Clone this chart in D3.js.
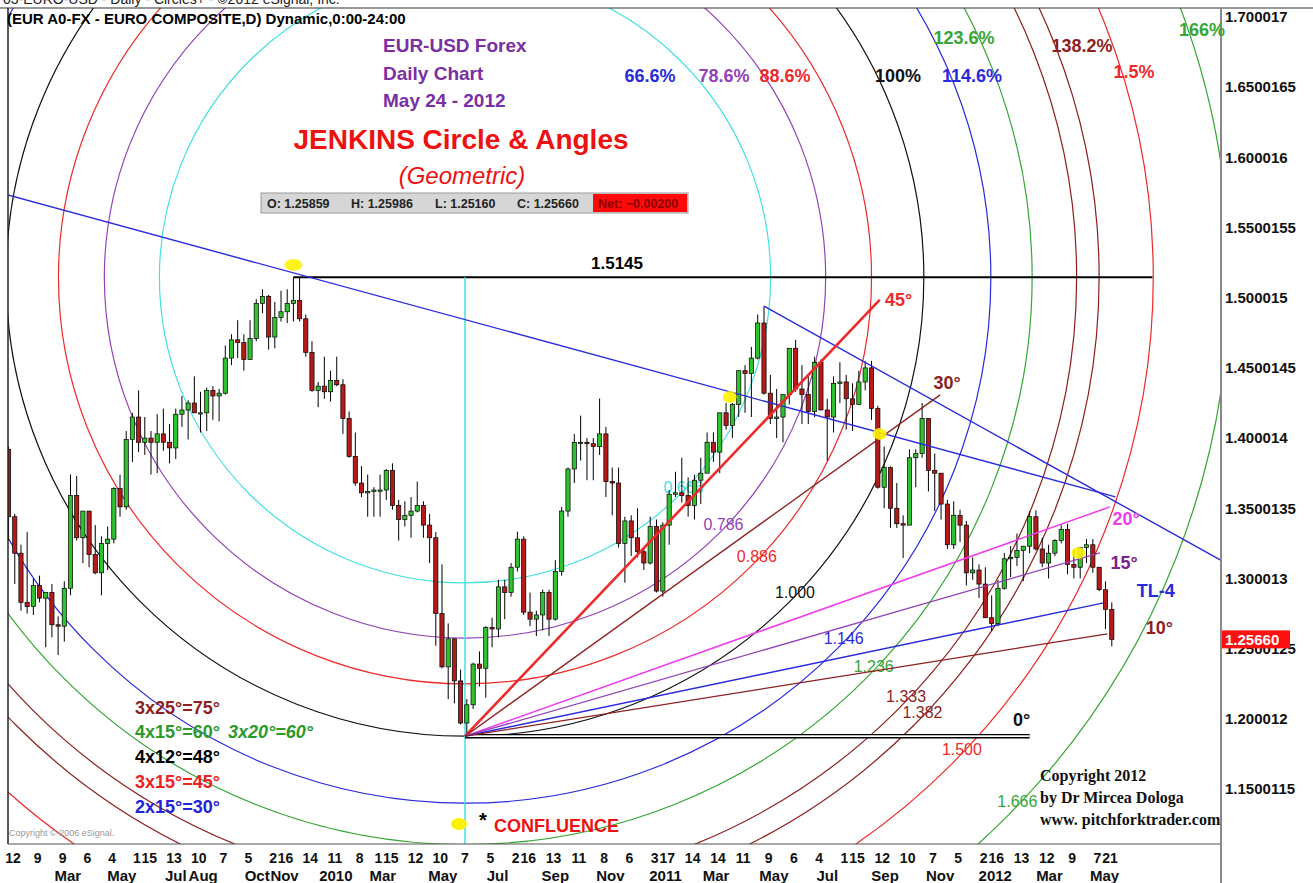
<!DOCTYPE html>
<html>
<head>
<meta charset="utf-8">
<script src="https://cdn.jsdelivr.net/npm/d3@7"></script>
<style>
  body { margin: 0; background: #fff; }
  svg { display: block; }
</style>
</head>
<body>
<div id="chart"></div>
<script>
// weekly EUR/USD candles [open, high, low, close], one row per week (Mondays)
var ohlc2009 = [
  [1.3920,1.3940,1.3270,1.3440],[1.3440,1.3460,1.2960,1.3180],[1.3180,1.3240,1.2770,1.2830],[1.2830,1.3330,1.2750,1.2800],
  [1.2800,1.3000,1.2740,1.2950],[1.2950,1.3020,1.2830,1.2860],[1.2860,1.2890,1.2510,1.2900],[1.2900,1.2960,1.2580,1.2670],
  [1.2670,1.2730,1.2455,1.2660],[1.2660,1.2980,1.2550,1.2930],[1.2930,1.3740,1.2880,1.3590],[1.3590,1.3730,1.3270,1.3290],
  [1.3290,1.3450,1.3110,1.3480],[1.3480,1.3480,1.3080,1.3170],[1.3170,1.3380,1.3030,1.3040],[1.3040,1.3300,1.2880,1.3250],
  [1.3250,1.3370,1.3060,1.3280],[1.3280,1.3650,1.3250,1.3640],[1.3640,1.3740,1.3440,1.3510],[1.3510,1.4050,1.3490,1.3990],
  [1.3990,1.4180,1.3830,1.4150],[1.4150,1.4340,1.3900,1.3970],[1.3970,1.4150,1.3880,1.4000],[1.4000,1.4050,1.3740,1.3970],
  [1.3970,1.4170,1.3750,1.4030],[1.4030,1.4210,1.3910,1.3970],[1.3970,1.4100,1.3820,1.3930],[1.3930,1.4210,1.3850,1.4170],
  [1.4170,1.4300,1.4080,1.4200],[1.4200,1.4270,1.3990,1.4250],[1.4250,1.4440,1.4180,1.4180],[1.4180,1.4330,1.4040,1.4180],
  [1.4180,1.4360,1.4050,1.4340],[1.4340,1.4370,1.4130,1.4300],[1.4300,1.4350,1.4120,1.4320],[1.4320,1.4660,1.4310,1.4570],
  [1.4570,1.4740,1.4520,1.4700],[1.4700,1.4840,1.4570,1.4680],[1.4680,1.4740,1.4480,1.4560],[1.4560,1.4840,1.4560,1.4710],
  [1.4710,1.4990,1.4690,1.4960],[1.4960,1.5060,1.4890,1.5010],[1.5010,1.5020,1.4630,1.4720],[1.4720,1.4970,1.4640,1.4860],
  [1.4860,1.5050,1.4830,1.4900],[1.4900,1.5060,1.4820,1.4960],[1.4960,1.5145,1.4830,1.4980],[1.4980,1.5140,1.4830,1.4850],
  [1.4850,1.4880,1.4580,1.4610],[1.4610,1.4690,1.4330,1.4340],[1.4340,1.4400,1.4220,1.4370],[1.4370,1.4580,1.4280,1.4330]
];
var ohlc2010 = [
  [1.4330,1.4480,1.4260,1.4410],[1.4410,1.4580,1.4370,1.4380],[1.4380,1.4420,1.4030,1.4140],[1.4140,1.4190,1.3860,1.3870],
  [1.3870,1.4040,1.3660,1.3680],[1.3680,1.3800,1.3580,1.3610],[1.3610,1.3740,1.3440,1.3620],[1.3620,1.3650,1.3440,1.3630],
  [1.3630,1.3740,1.3440,1.3630],[1.3630,1.3780,1.3560,1.3770],[1.3770,1.3820,1.3490,1.3520],[1.3520,1.3560,1.3270,1.3420],
  [1.3420,1.3550,1.3370,1.3450],[1.3450,1.3580,1.3290,1.3480],[1.3480,1.3690,1.3470,1.3520],[1.3520,1.3550,1.3290,1.3380],
  [1.3380,1.3460,1.3110,1.3290],[1.3290,1.3330,1.2520,1.2750],[1.2750,1.3100,1.2360,1.2370],[1.2370,1.2680,1.2140,1.2570],
  [1.2570,1.2570,1.2110,1.2270],[1.2270,1.2350,1.1960,1.1970],[1.1970,1.2140,1.1876,1.2100],[1.2100,1.2400,1.2070,1.2390],
  [1.2390,1.2480,1.2230,1.2360],[1.2360,1.2660,1.2150,1.2650],[1.2650,1.2720,1.2510,1.2640],[1.2640,1.2990,1.2580,1.2940],
  [1.2940,1.2990,1.2710,1.2900],[1.2900,1.3110,1.2870,1.3080],[1.3080,1.3333,1.3050,1.3280],[1.3280,1.3300,1.2740,1.2760],
  [1.2760,1.2900,1.2660,1.2710],[1.2710,1.2770,1.2590,1.2740],[1.2740,1.2920,1.2630,1.2900],[1.2900,1.2920,1.2590,1.2710],
  [1.2710,1.3130,1.2700,1.3050],[1.3050,1.3510,1.3020,1.3480],[1.3480,1.3790,1.3440,1.3780],[1.3780,1.4030,1.3680,1.3970],
  [1.3970,1.4160,1.3840,1.3970],[1.3970,1.4000,1.3700,1.3960],[1.3960,1.4000,1.3700,1.3940],[1.3940,1.4282,1.3880,1.4030],
  [1.4030,1.4080,1.3580,1.3690],[1.3690,1.3790,1.3450,1.3680],[1.3680,1.3790,1.3220,1.3250],[1.3250,1.3440,1.2970,1.3410],
  [1.3410,1.3450,1.3160,1.3290],[1.3290,1.3500,1.3150,1.3190],[1.3190,1.3220,1.3060,1.3110],[1.3110,1.3440,1.3100,1.3370]
];
var ohlc2011 = [
  [1.3370,1.3420,1.2900,1.2910],[1.2910,1.3400,1.2870,1.3380],[1.3380,1.3630,1.3240,1.3600],[1.3600,1.3760,1.3580,1.3610],
  [1.3610,1.3860,1.3540,1.3590],[1.3590,1.3720,1.3440,1.3520],[1.3520,1.3740,1.3420,1.3700],[1.3700,1.3860,1.3530,1.3750],
  [1.3750,1.4040,1.3750,1.3970],[1.3970,1.4040,1.3830,1.3900],[1.3900,1.4180,1.3750,1.4180],[1.4180,1.4250,1.4060,1.4090],
  [1.4090,1.4250,1.4000,1.4240],[1.4240,1.4480,1.4150,1.4480],[1.4480,1.4520,1.4180,1.4460],[1.4460,1.4650,1.4150,1.4570],
  [1.4570,1.4880,1.4560,1.4820],[1.4820,1.4940,1.4310,1.4320],[1.4320,1.4450,1.4100,1.4140],[1.4140,1.4350,1.4000,1.4150],
  [1.4150,1.4310,1.3970,1.4310],[1.4310,1.4640,1.4240,1.4640],[1.4640,1.4700,1.4330,1.4350],[1.4350,1.4520,1.4100,1.4310],
  [1.4310,1.4450,1.4100,1.4190],[1.4190,1.4580,1.4150,1.4540],[1.4540,1.4560,1.4200,1.4200],[1.4200,1.4280,1.3840,1.4150],
  [1.4150,1.4440,1.4040,1.4390],[1.4390,1.4540,1.4250,1.4400],[1.4400,1.4450,1.4060,1.4280],[1.4280,1.4390,1.4050,1.4240],
  [1.4240,1.4480,1.4240,1.4400],[1.4400,1.4550,1.4340,1.4500],[1.4500,1.4550,1.4130,1.4210],[1.4210,1.4230,1.3640,1.3650],
  [1.3650,1.3940,1.3500,1.3790],[1.3790,1.3800,1.3360,1.3500],[1.3500,1.3680,1.3360,1.3390],[1.3390,1.3450,1.3145,1.3380],
  [1.3380,1.3920,1.3380,1.3860],[1.3860,1.3920,1.3650,1.3890],[1.3890,1.4250,1.3860,1.4140],[1.4140,1.4140,1.3620,1.3770],
  [1.3770,1.3890,1.3480,1.3750],[1.3750,1.3750,1.3420,1.3530],[1.3530,1.3560,1.3210,1.3240],[1.3240,1.3550,1.3210,1.3450],
  [1.3450,1.3490,1.3260,1.3380],[1.3380,1.3410,1.2950,1.3040],[1.3040,1.3150,1.2990,1.3060],[1.3060,1.3100,1.2860,1.2960]
];
var ohlc2012 = [
  [1.2960,1.3080,1.2720,1.2720],[1.2720,1.2880,1.2625,1.2680],[1.2680,1.2990,1.2660,1.2930],[1.2930,1.3180,1.2920,1.3140],
  [1.3140,1.3230,1.3010,1.3150],[1.3150,1.3320,1.3090,1.3200],[1.3200,1.3230,1.2980,1.3230],[1.3230,1.3480,1.3180,1.3440],
  [1.3440,1.3485,1.3200,1.3210],[1.3210,1.3290,1.3080,1.3110],[1.3110,1.3240,1.3000,1.3180],[1.3180,1.3280,1.3160,1.3270],
  [1.3270,1.3380,1.3250,1.3350],[1.3350,1.3390,1.3030,1.3100],[1.3100,1.3210,1.3000,1.3080],[1.3080,1.3220,1.3000,1.3220],
  [1.3220,1.3280,1.3110,1.3240],[1.3240,1.3280,1.3040,1.3080],[1.3080,1.3080,1.2910,1.2920],[1.2920,1.2980,1.2640,1.2780],
  [1.2780,1.2830,1.2516,1.2566]
];
var firstWeek = '2009-01-05';
var lastWeek = '2012-05-21';

// last daily bar (May 24 2012): open, high, low, close, net
var lastBar = [1.25859, 1.25986, 1.25160, 1.25660, -0.00200];

// swing points the geometry is built on
var swingHigh = ['2009-11-25', 1.5145];
var swingLow = ['2010-06-07', 1.1876];

// Jenkins circles, as a ratio of the high-low radius
var circleLevels = [0.666, 0.786, 0.886, 1.000, 1.146, 1.236, 1.333, 1.382, 1.500, 1.666];
var circleNames = ['0.666', '0.786', '0.886', '1.000', '1.146', '1.236', '1.333', '1.382', '1.500', '1.666'];
var topPctNames = ['66.6%', '78.6%', '88.6%', '100%', '114.6%', '123.6%', '138.2%', '1.5%', '166%'];

// angles drawn from the swing low: end date, end price
var angleNames = ['45°', '30°', '20°', '15°', 'TL-4', '10°', '0°'];
var angleEndDates = ['2011-09-09', '2011-11-15', '2012-05-21', '2012-05-10', '2012-05-14', '2012-05-18', '2012-02-22'];
var angleEndPrices = [1.4984, 1.4308, 1.3510, 1.3182, 1.2826, 1.2605, 1.1876];

// blue trendlines: start date, start price, end date, end price
var trendStart = [['2009-01-06', 1.5732], ['2011-05-04', 1.4940]];
var trendEnd = [['2012-05-27', 1.3581], ['2012-09-20', 1.3132]];
var highLineEnd = '2012-07-07';

// yellow touch markers
var touchDates = ['2009-11-25', '2011-03-27', '2011-09-09', '2012-04-16'];
var touchPrices = [1.5234, 1.4293, 1.4030, 1.3181];

// axes
var priceTicks = [1.700017, 1.6500165, 1.600016, 1.5500155, 1.500015, 1.4500145, 1.400014, 1.3500135, 1.300013, 1.2500125, 1.200012, 1.1500115];
var priceTickLabels = ['1.700017', '1.6500165', '1.600016', '1.5500155', '1.500015', '1.4500145', '1.400014', '1.3500135', '1.300013', '1.2500125', '1.200012', '1.1500115'];
var dayTicks = [
  '2009-01-12','2009-02-09','2009-03-09','2009-04-06','2009-05-04','2009-06-01','2009-06-15','2009-07-13','2009-08-10','2009-09-07','2009-10-05','2009-11-02','2009-11-16','2009-12-14',
  '2010-01-11','2010-02-08','2010-03-01','2010-03-15','2010-04-12','2010-05-10','2010-06-07','2010-07-05','2010-08-02','2010-08-16','2010-09-13','2010-10-11','2010-11-08','2010-12-06',
  '2011-01-03','2011-01-17','2011-02-14','2011-03-14','2011-04-11','2011-05-09','2011-06-06','2011-07-04','2011-08-01','2011-08-15','2011-09-12','2011-10-10','2011-11-07','2011-12-05',
  '2012-01-02','2012-01-16','2012-02-13','2012-03-12','2012-04-09','2012-05-07','2012-05-21'
];
var monthTicks = ['2009-03-15','2009-05-15','2009-07-15','2009-08-15','2009-10-15','2009-11-15','2010-01-12','2010-03-06','2010-05-13','2010-07-13','2010-09-15','2010-11-15',
  '2011-01-15','2011-03-12','2011-05-15','2011-07-13','2011-09-15','2011-11-15','2012-01-15','2012-03-15','2012-05-15'];
var monthLabels = ['Mar','May','Jul','Aug','Oct','Nov','2010','Mar','May','Jul','Sep','Nov','2011','Mar','May','Jul','Sep','Nov','2012','Mar','May'];

(function(){

  var width = 1313;
  var height = 883;
  var left = 8, right = 1221, top = 8, bottom = 844;

  var sans = 'Liberation Sans, Arial, Helvetica, sans-serif';
  var serif = 'Liberation Serif, Times New Roman, serif';

  var col = {
    cyan: '#45e0e2', purple: '#9342b8', red: '#ee2a2a', black: '#111111', blue: '#2a2add',
    green: '#36a636', darkred: '#8e1f1f', magenta: '#f03cee', title: '#7a2fa3'
  };
  var circleColors = [col.cyan, col.purple, col.red, col.black, col.blue, col.green, col.darkred, col.darkred, col.red, col.green];
  var angleStyle = {
    '45°':  {color: col.red, w: 2.6, dx: 19, dy: 0, text: col.red},
    '30°':  {color: col.darkred, w: 1.3, dx: 7, dy: -12, text: col.darkred},
    '20°':  {color: col.magenta, w: 1.5, dx: 16, dy: 12, text: col.magenta},
    '15°':  {color: col.purple, w: 1.3, dx: 24, dy: 10, text: '#7a2290'},
    'TL-4': {color: col.blue, w: 1.5, dx: 52, dy: -12, text: col.blue},
    '10°':  {color: col.darkred, w: 1.3, dx: 52, dy: -6, text: col.darkred},
    '0°':   {color: col.black, w: 1.3, dx: -8, dy: -17, text: col.black}
  };
  // where the percentage names sit along the top
  var topPctPos = [[650, 76], [724, 76], [785, 76], [898, 76], [972, 76], [964, 38], [1082, 46], [1134, 72], [1202, 30]];
  var topPctColors = [col.blue, col.purple, col.red, col.black, col.blue, col.green, col.darkred, col.red, col.green];

  var parse = d3.timeParse('%Y-%m-%d');

  var x = d3.scaleTime()
      .domain([parse('2009-01-12'), parse('2010-06-07'), parse('2012-05-21')])
      .range([13, 465, 1110]);
  var y = d3.scaleLinear()
      .domain([1.15, 1.70])
      .range([789, 17]);

  var weeks = d3.timeMonday.range(parse(firstWeek), d3.timeDay.offset(parse(lastWeek), 1));
  var rows = ohlc2009.concat(ohlc2010, ohlc2011, ohlc2012);
  var candles = weeks.map(function(w, i){
    var r = rows[i];
    return {date: d3.timeDay.offset(w, 2), o: r[0], h: r[1], l: r[2], c: r[3]};
  });

  var svg = d3.select('#chart')
      .append('svg')
      .attr('width', width)
      .attr('height', height)
      .style('background', '#fff');

  svg.append('clipPath').attr('id', 'plot')
    .append('rect')
      .attr('x', left).attr('y', top)
      .attr('width', right - left).attr('height', bottom - top);

  var plot = svg.append('g').attr('clip-path', 'url(#plot)');

  // ---- Jenkins circles
  var cx = x(parse(swingLow[0]));
  var cy = y(swingHigh[1]);
  var baseR = y(swingLow[1]) - y(swingHigh[1]);

  plot.selectAll('circle.jenkins')
      .data(circleLevels)
      .enter()
      .append('circle')
        .attr('class', 'jenkins')
        .attr('cx', cx)
        .attr('cy', cy)
        .attr('r', function(d){ return d * baseR; })
        .attr('fill', 'none')
        .attr('stroke', function(d, i){ return circleColors[i]; })
        .attr('stroke-width', 1.2);

  // ratio names, laid along a ray below right of the centre
  var ray = 43.3 * Math.PI / 180;
  plot.selectAll('text.ratio')
      .data(circleLevels)
      .enter()
      .append('text')
        .attr('class', 'ratio')
        .attr('x', function(d){ return cx + d * baseR * Math.cos(ray) - 4; })
        .attr('y', function(d){ return cy + d * baseR * Math.sin(ray); })
        .attr('dy', '0.35em')
        .attr('text-anchor', 'middle')
        .attr('font-family', sans)
        .attr('font-size', '16px')
        .attr('fill', function(d, i){ return circleColors[i]; })
        .text(function(d, i){ return circleNames[i]; });

  // ---- high line and the vertical through the low
  plot.append('line')
      .attr('x1', x(parse(swingHigh[0]))).attr('x2', x(parse(highLineEnd)))
      .attr('y1', y(swingHigh[1])).attr('y2', y(swingHigh[1]))
      .attr('stroke', '#000').attr('stroke-width', 2);

  plot.append('line')
      .attr('x1', cx).attr('x2', cx)
      .attr('y1', y(swingHigh[1])).attr('y2', y(1.10))
      .attr('stroke', col.cyan).attr('stroke-width', 1.5);

  // ---- candles
  var step = x(weeks[1]) - x(weeks[0]);
  var bw = Math.max(2, step * 0.68);

  var bars = plot.selectAll('g.bar')
      .data(candles)
      .enter()
      .append('g')
        .attr('class', 'bar');

  bars.append('line')
      .attr('x1', function(d){ return x(d.date); })
      .attr('x2', function(d){ return x(d.date); })
      .attr('y1', function(d){ return y(d.h); })
      .attr('y2', function(d){ return y(d.l); })
      .attr('stroke', '#000')
      .attr('stroke-width', 1);

  bars.append('rect')
      .attr('x', function(d){ return x(d.date) - bw / 2; })
      .attr('y', function(d){ return y(Math.max(d.o, d.c)); })
      .attr('width', bw)
      .attr('height', function(d){ return Math.max(1.2, Math.abs(y(d.o) - y(d.c))); })
      .attr('fill', function(d){ return d.c >= d.o ? '#2fc22f' : '#b51a1a'; })
      .attr('stroke', '#000')
      .attr('stroke-width', 0.7);

  // ---- blue trendlines
  plot.selectAll('line.trend')
      .data(trendStart)
      .enter()
      .append('line')
        .attr('class', 'trend')
        .attr('x1', function(d){ return x(parse(d[0])); })
        .attr('y1', function(d){ return y(d[1]); })
        .attr('x2', function(d, i){ return x(parse(trendEnd[i][0])); })
        .attr('y2', function(d, i){ return y(trendEnd[i][1]); })
        .attr('stroke', col.blue)
        .attr('stroke-width', 1.4);

  // ---- angles from the low
  var ox = x(parse(swingLow[0]));
  var oy = y(swingLow[1]);
  var angles = angleNames.map(function(n, i){
    return {name: n, x2: x(parse(angleEndDates[i])), y2: y(angleEndPrices[i])};
  });

  var zero = angles.filter(function(d){ return d.name === '0°'; })[0];
  plot.append('line')
      .attr('x1', ox).attr('y1', oy).attr('x2', zero.x2).attr('y2', zero.y2)
      .attr('stroke', '#000').attr('stroke-width', 4.6);
  plot.append('line')
      .attr('x1', ox).attr('y1', oy).attr('x2', zero.x2).attr('y2', zero.y2)
      .attr('stroke', '#fff').attr('stroke-width', 1.8);

  plot.selectAll('line.angle')
      .data(angles.filter(function(d){ return d.name !== '0°'; }))
      .enter()
      .append('line')
        .attr('class', 'angle')
        .attr('x1', ox).attr('y1', oy)
        .attr('x2', function(d){ return d.x2; })
        .attr('y2', function(d){ return d.y2; })
        .attr('stroke', function(d){ return angleStyle[d.name].color; })
        .attr('stroke-width', function(d){ return angleStyle[d.name].w; });

  svg.selectAll('text.angle')
      .data(angles)
      .enter()
      .append('text')
        .attr('class', 'angle')
        .attr('x', function(d){ return d.x2 + angleStyle[d.name].dx; })
        .attr('y', function(d){ return d.y2 + angleStyle[d.name].dy; })
        .attr('dy', '0.35em')
        .attr('text-anchor', 'middle')
        .attr('font-family', sans)
        .attr('font-size', '18px')
        .attr('font-weight', 'bold')
        .attr('fill', function(d){ return angleStyle[d.name].text; })
        .text(function(d){ return d.name; });

  // ---- yellow touch markers
  plot.selectAll('ellipse.touch')
      .data(touchDates)
      .enter()
      .append('ellipse')
        .attr('class', 'touch')
        .attr('cx', function(d){ return x(parse(d)); })
        .attr('cy', function(d, i){ return y(touchPrices[i]); })
        .attr('rx', function(d, i){ return i === 0 ? 9 : 7; })
        .attr('ry', 6)
        .attr('fill', '#fff200')
        .attr('opacity', 0.9);

  // ---- frame and price axis
  svg.append('line').attr('x1', 0).attr('x2', width).attr('y1', top).attr('y2', top)
      .attr('stroke', '#333').attr('stroke-width', 1.2);
  svg.append('line').attr('x1', left).attr('x2', left).attr('y1', top).attr('y2', bottom)
      .attr('stroke', '#222').attr('stroke-width', 1.5);
  svg.append('line').attr('x1', left).attr('x2', right).attr('y1', bottom).attr('y2', bottom)
      .attr('stroke', '#555').attr('stroke-width', 1.2);
  svg.append('line').attr('x1', right).attr('x2', right).attr('y1', top).attr('y2', bottom + 40)
      .attr('stroke', '#888').attr('stroke-width', 2);

  svg.selectAll('text.ptick')
      .data(priceTicks)
      .enter()
      .append('text')
        .attr('class', 'ptick')
        .attr('x', right + 4)
        .attr('y', function(d){ return y(d); })
        .attr('dy', '0.35em')
        .attr('font-family', sans)
        .attr('font-size', '15px')
        .attr('font-weight', 'bold')
        .attr('fill', '#111')
        .text(function(d, i){ return priceTickLabels[i]; });

  var lastY = y(lastBar[3]);
  svg.append('rect')
      .attr('x', right + 1).attr('y', lastY - 9)
      .attr('width', 68).attr('height', 18)
      .attr('fill', '#ff1010');
  svg.append('text')
      .attr('x', right + 4).attr('y', lastY)
      .attr('dy', '0.35em')
      .attr('font-family', sans).attr('font-size', '15px').attr('font-weight', 'bold')
      .attr('fill', '#fff')
      .text(lastBar[3].toFixed(5));

  // ---- date axis
  var dayFmt = d3.timeFormat('%-d');
  svg.selectAll('text.dtick')
      .data(dayTicks)
      .enter()
      .append('text')
        .attr('class', 'dtick')
        .attr('x', function(d){ return x(parse(d)); })
        .attr('y', 858)
        .attr('dy', '0.35em')
        .attr('text-anchor', 'middle')
        .attr('font-family', sans)
        .attr('font-size', '14px')
        .attr('font-weight', 'bold')
        .attr('fill', '#111')
        .text(function(d){ return dayFmt(parse(d)); });

  svg.selectAll('text.mtick')
      .data(monthTicks)
      .enter()
      .append('text')
        .attr('class', 'mtick')
        .attr('x', function(d){ return x(parse(d)); })
        .attr('y', 876)
        .attr('dy', '0.35em')
        .attr('text-anchor', 'middle')
        .attr('font-family', sans)
        .attr('font-size', '15px')
        .attr('font-weight', 'bold')
        .attr('fill', '#111')
        .text(function(d, i){ return monthLabels[i]; });

  // ---- texts
  var note = function(txt, px, py, size, color, weight, style, family, anchor){
    return svg.append('text')
      .attr('x', px).attr('y', py)
      .attr('font-family', family || sans)
      .attr('font-size', size + 'px')
      .attr('font-weight', weight || 'bold')
      .attr('font-style', style || 'normal')
      .attr('text-anchor', anchor || 'start')
      .attr('fill', color)
      .text(txt);
  };

  note('03-EURO-USD - Daily - Circles+ - \u00a92012 eSignal, Inc.', 3, 4, 14, '#222', 'normal');
  note('(EUR A0-FX - EURO COMPOSITE,D) Dynamic,0:00-24:00', 7, 24, 15, '#000');

  note('EUR-USD Forex', 383, 52, 19, col.title);
  note('Daily Chart', 383, 80, 19, col.title);
  note('May 24 - 2012', 383, 107, 19, col.title);
  note('JENKINS Circle & Angles', 461, 149, 28, '#ee1111', 'bold', 'normal', sans, 'middle');
  note('(Geometric)', 462, 184, 24, '#ee1111', 'normal', 'italic', sans, 'middle');

  topPctNames.forEach(function(t, i){
    note(t, topPctPos[i][0], topPctPos[i][1] + 6, 18, topPctColors[i], 'bold', 'normal', sans, 'middle');
  });

  note('1.5145', 617, 269, 17, '#000', 'bold', 'normal', sans, 'middle');

  // OHLC strip
  svg.append('rect').attr('x', 261).attr('y', 193).attr('width', 427).attr('height', 20)
      .attr('fill', '#d6d6d6').attr('stroke', '#9a9a9a');
  svg.append('rect').attr('x', 593).attr('y', 194).attr('width', 94).attr('height', 18)
      .attr('fill', '#ff0a0a');
  var f5 = d3.format('.5f');
  note('O: ' + f5(lastBar[0]), 267, 208, 12.5, '#222');
  note('H: ' + f5(lastBar[1]), 351, 208, 12.5, '#222');
  note('L: ' + f5(lastBar[2]), 435, 208, 12.5, '#222');
  note('C: ' + f5(lastBar[3]), 517, 208, 12.5, '#222');
  note('Net: ' + f5(lastBar[4]), 598, 208, 12.5, '#8a0000');

  // angle multiplication notes
  note('3x25\u00b0=75\u00b0', 135, 714, 18, col.darkred);
  note('4x15\u00b0=60\u00b0', 135, 738, 18, '#2a9a2a');
  note('3x20\u00b0=60\u00b0', 228, 738, 18, '#2a9a2a', 'bold', 'italic');
  note('4x12\u00b0=48\u00b0', 135, 763, 18, '#000');
  note('3x15\u00b0=45\u00b0', 135, 788, 18, '#ee2222');
  note('2x15\u00b0=30\u00b0', 135, 813, 18, '#2222dd');

  note('Copyright \u00a9 2006 eSignal.', 9, 836, 9, '#999', 'normal');

  svg.append('ellipse').attr('cx', 459).attr('cy', 824).attr('rx', 8).attr('ry', 6).attr('fill', '#fff200');
  note('*', 479, 827, 20, '#000');
  note('CONFLUENCE', 494, 832, 18, '#ee1111');

  note('Copyright 2012', 1040, 781, 16, '#111', 'bold', 'normal', serif);
  note('by Dr Mircea Dologa', 1040, 803, 16, '#111', 'bold', 'normal', serif);
  note('www. pitchforktrader.com', 1040, 825, 16, '#111', 'bold', 'normal', serif);

})();
</script>
</body>
</html>
